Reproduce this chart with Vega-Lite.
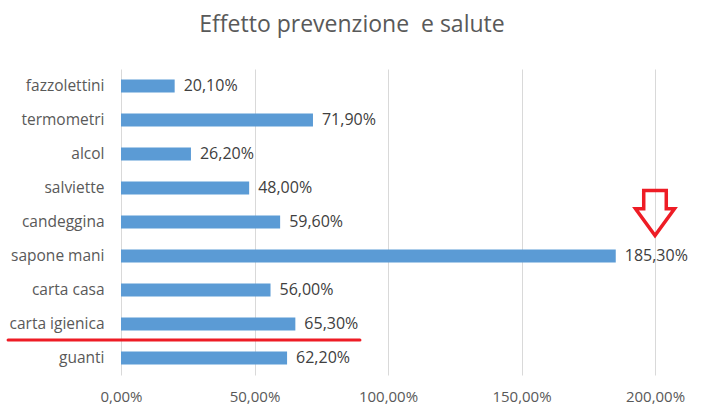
{
  "$schema": "https://vega.github.io/schema/vega-lite/v6.json",
  "width": 534,
  "height": 306,
  "autosize": {"type": "none"},
  "padding": {"left": 121, "top": 69, "right": 47, "bottom": 40},
  "background": "white",
  "title": {
    "text": "Effetto prevenzione\u00a0 e salute",
    "anchor": "middle",
    "dx": -36,
    "baseline": "alphabetic",
    "offset": 14,
    "font": "Open Sans",
    "fontSize": 23,
    "fontWeight": "normal",
    "color": "#595959"
  },
  "config": {
    "locale": {"number": {"decimal": ",", "thousands": ".", "grouping": [3], "currency": ["", " €"]}},
    "view": {"stroke": null},
    "font": "Open Sans"
  },
  "datasets": {
    "main": [
      {"categoria": "fazzolettini", "valore": 0.201},
      {"categoria": "termometri", "valore": 0.719},
      {"categoria": "alcol", "valore": 0.262},
      {"categoria": "salviette", "valore": 0.48},
      {"categoria": "candeggina", "valore": 0.596},
      {"categoria": "sapone mani", "valore": 1.853},
      {"categoria": "carta casa", "valore": 0.56},
      {"categoria": "carta igienica", "valore": 0.653},
      {"categoria": "guanti", "valore": 0.622}
    ],
    "underline": [
      {"categoria": "carta igienica", "da": -0.423, "a": 0.895}
    ],
    "arrow": [
      {"categoria": "candeggina", "valore": 2.0}
    ]
  },
  "layer": [
    {
      "data": {"name": "main"},
      "mark": {"type": "bar", "color": "#5B9BD5"},
      "encoding": {
        "y": {
          "field": "categoria",
          "type": "nominal",
          "sort": null,
          "scale": {"paddingInner": 0.62, "paddingOuter": 0.31},
          "axis": {
            "title": null,
            "domain": false,
            "ticks": false,
            "labelPadding": 17,
            "labelFont": "Open Sans",
            "labelFontSize": 15.5,
            "labelColor": "#595959"
          }
        },
        "x": {
          "field": "valore",
          "type": "quantitative",
          "scale": {"domain": [0, 2], "nice": false},
          "axis": {
            "title": null,
            "format": ".2%",
            "values": [0, 0.5, 1, 1.5, 2],
            "domain": false,
            "ticks": false,
            "grid": true,
            "gridColor": "#D9D9D9",
            "gridWidth": 1,
            "labelFlush": false,
            "labelPadding": 14,
            "labelFont": "Open Sans",
            "labelFontSize": 15,
            "labelColor": "#595959"
          }
        }
      }
    },
    {
      "data": {"name": "main"},
      "mark": {"type": "text", "align": "left", "baseline": "middle", "dx": 9, "font": "Open Sans", "fontSize": 16, "color": "#404040"},
      "encoding": {
        "y": {"field": "categoria", "type": "nominal", "sort": null},
        "x": {"field": "valore", "type": "quantitative"},
        "text": {"field": "valore", "type": "quantitative", "format": ".2%"}
      }
    },
    {
      "data": {"name": "underline"},
      "mark": {"type": "rule", "color": "#EE1C25", "strokeWidth": 3, "yOffset": 16, "strokeCap": "round"},
      "encoding": {
        "y": {"field": "categoria", "type": "nominal", "sort": null},
        "x": {"field": "da", "type": "quantitative"},
        "x2": {"field": "a"}
      }
    },
    {
      "data": {"name": "arrow"},
      "mark": {
        "type": "point",
        "shape": "M-0.55,-1.25 L0.55,-1.25 L0.55,-0.35 L0.95,-0.35 L0,0.95 L-0.95,-0.35 L-0.55,-0.35 Z",
        "size": 1681,
        "filled": false,
        "stroke": "#EE1C25",
        "strokeWidth": 3.5,
        "opacity": 1,
        "yOffset": -6
      },
      "encoding": {
        "y": {"field": "categoria", "type": "nominal", "sort": null},
        "x": {"field": "valore", "type": "quantitative"}
      }
    }
  ]
}
